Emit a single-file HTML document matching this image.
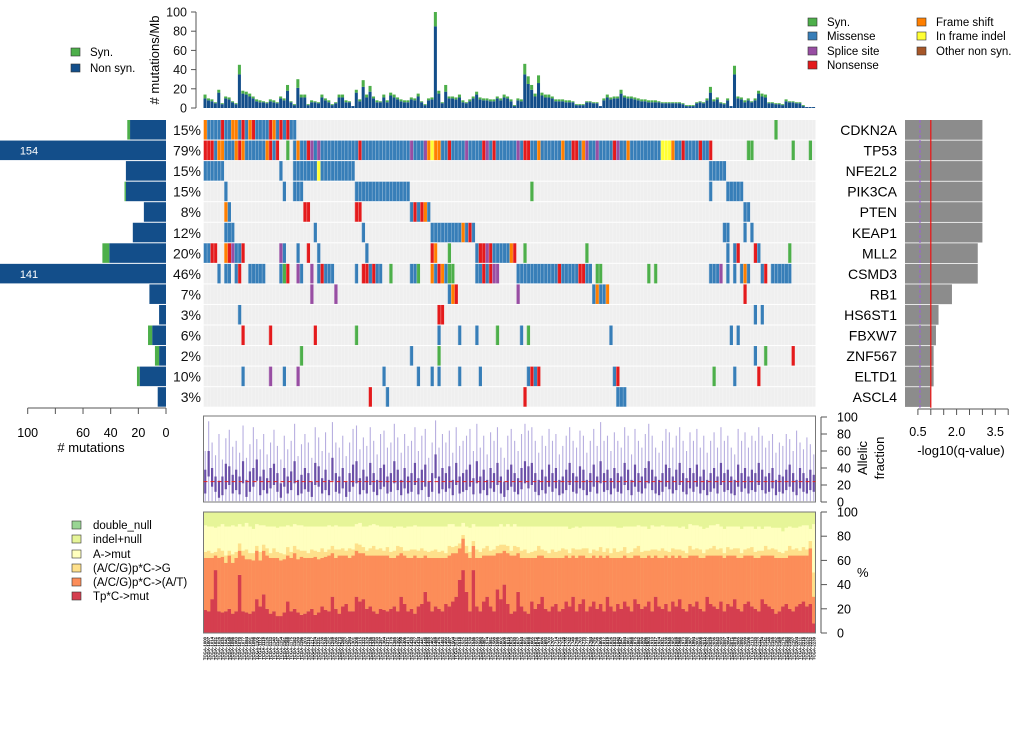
<!DOCTYPE html>
<html><head><meta charset="utf-8"><title>Mutation landscape</title>
<style>
html,body{margin:0;padding:0;background:#fff;}
svg{display:block;font-family:"Liberation Sans",Arial,sans-serif;}
</style></head>
<body>
<svg id="chart" xmlns="http://www.w3.org/2000/svg" width="1020" height="744" viewBox="0 0 1020 744">
<g id="top-legend-left">
  <rect x="71" y="48" width="9" height="8" fill="#4daf4a" stroke="#333" stroke-width="0.6"/>
  <text x="90" y="56" font-size="11.5">Syn.</text>
  <rect x="71" y="64" width="9" height="8" fill="#134e8a" stroke="#333" stroke-width="0.6"/>
  <text x="90" y="72" font-size="11.5">Non syn.</text>
</g>
<g id="top-legend-right">
  <rect x="808" y="18" width="9" height="8" fill="#4daf4a" stroke="#333" stroke-width="0.6"/>
  <text x="827" y="26" font-size="11.5">Syn.</text>
  <rect x="808" y="32" width="9" height="8" fill="#377eb8" stroke="#333" stroke-width="0.6"/>
  <text x="827" y="40" font-size="11.5">Missense</text>
  <rect x="808" y="47" width="9" height="8" fill="#984ea3" stroke="#333" stroke-width="0.6"/>
  <text x="827" y="55" font-size="11.5">Splice site</text>
  <rect x="808" y="61" width="9" height="8" fill="#e41a1c" stroke="#333" stroke-width="0.6"/>
  <text x="827" y="69" font-size="11.5">Nonsense</text>
  <rect x="917" y="18" width="9" height="8" fill="#ff7f00" stroke="#333" stroke-width="0.6"/>
  <text x="936" y="26" font-size="11.5">Frame shift</text>
  <rect x="917" y="32" width="9" height="8" fill="#ffff33" stroke="#333" stroke-width="0.6"/>
  <text x="936" y="40" font-size="11.5">In frame indel</text>
  <rect x="917" y="47" width="9" height="8" fill="#a65628" stroke="#333" stroke-width="0.6"/>
  <text x="936" y="55" font-size="11.5">Other non syn.</text>
</g>
<g id="bottom-legend">
  <rect x="72" y="521" width="9" height="8" fill="#99d594" stroke="#333" stroke-width="0.6"/>
  <text x="93" y="529" font-size="11.5">double_null</text>
  <rect x="72" y="535" width="9" height="8" fill="#e6f598" stroke="#333" stroke-width="0.6"/>
  <text x="93" y="543" font-size="11.5">indel+null</text>
  <rect x="72" y="550" width="9" height="8" fill="#ffffbf" stroke="#333" stroke-width="0.6"/>
  <text x="93" y="558" font-size="11.5">A-&gt;mut</text>
  <rect x="72" y="564" width="9" height="8" fill="#fee08b" stroke="#333" stroke-width="0.6"/>
  <text x="93" y="572" font-size="11.5">(A/C/G)p*C-&gt;G</text>
  <rect x="72" y="578" width="9" height="8" fill="#fc8d59" stroke="#333" stroke-width="0.6"/>
  <text x="93" y="586" font-size="11.5">(A/C/G)p*C-&gt;(A/T)</text>
  <rect x="72" y="592" width="9" height="8" fill="#d53e4f" stroke="#333" stroke-width="0.6"/>
  <text x="93" y="600" font-size="11.5">Tp*C-&gt;mut</text>
</g>
<g id="marks"></g>
</svg>
<script>
// ---------- data ----------
const genes = ["CDKN2A","TP53","NFE2L2","PIK3CA","PTEN","KEAP1","MLL2","CSMD3","RB1","HS6ST1","FBXW7","ZNF567","ELTD1","ASCL4"];
const pctLabels = ["15%","79%","15%","15%","8%","12%","20%","46%","7%","3%","6%","2%","10%","3%"];
const geneNonsyn = [26,154,29,29,16,24,41,141,12,5,10,5,19,6];
const geneSyn = [2,0,0,1,0,0,5,0,0,0,3,3,2,0];
const qScore = [3.0,3.0,3.0,3.0,3.0,3.0,2.82,2.82,1.82,1.3,1.2,1.11,1.11,1.0];
const leftTicks = [100,80,60,40,20,0];
const leftTickLabels = ["100","","60","40","20","0"];
const qTicks = [0.5,1.0,1.5,2.0,2.5,3.0,3.5,4.0];
const qTickLabels = ["0.5","","","2.0","","","3.5",""];
const pctTicks = [0,20,40,60,80,100];

const burdenTotal = [
 14,10,9,6,19,5,12,11,7,5,
 45,18,17,15,12,9,8,7,6,9,
 8,6,12,10,24,7,4,30,14,14,
 4,8,7,6,14,10,8,4,6,14,
 14,8,7,2,19,9,29,14,23,12,
 8,7,14,8,16,14,11,9,8,8,
 11,10,15,7,4,10,11,100,18,6,
 24,12,12,11,14,8,6,9,12,17,
 11,10,10,9,9,12,10,14,12,9,
 3,10,9,46,33,24,15,34,16,14,
 14,12,9,9,9,8,8,7,4,4,
 4,7,7,6,6,2,10,14,11,12,
 12,19,13,12,12,11,10,9,9,8,
 8,8,7,6,6,6,6,6,6,5,
 3,3,3,6,7,6,10,22,9,11,
 6,5,10,2,44,12,11,8,10,7,
 10,18,15,14,6,6,5,5,4,9,
 7,7,6,6,3,1,1,1];
const burdenSyn = [
 4,2,2,1,3,1,2,2,1,1,
 10,3,3,3,2,2,2,1,1,2,
 2,1,2,2,6,1,1,9,3,3,
 1,2,1,1,3,2,2,1,1,3,
 3,2,1,0,3,2,7,3,6,2,
 2,1,3,2,3,3,2,2,2,2,
 2,2,3,1,1,2,2,15,3,1,
 7,2,2,2,3,2,1,2,2,3,
 2,2,2,2,2,2,2,3,2,2,
 1,2,2,11,8,5,3,8,3,3,
 3,2,2,2,2,2,2,1,1,1,
 1,1,1,1,1,0,2,3,2,2,
 2,4,2,2,2,2,2,2,2,2,
 2,2,1,1,1,1,1,1,1,1,
 1,1,1,1,1,1,2,6,2,2,
 1,1,2,0,9,2,2,2,2,1,
 2,3,3,3,1,1,1,1,1,2,
 1,1,1,1,1,0,0,0];

const afQ1 = [
 10,30,18,12,5,8,15,20,10,14, 9,22,6,12,18,25,8,14,10,16, 20,12,5,18,10,14,22,8,10,15, 12,6,20,18,10,14,8,25,12,10,
 16,6,12,18,22,9,14,10,20,12, 8,15,18,10,12,22,14,8,16,10, 12,20,9,14,18,6,12,28,10,15, 12,16,8,20,10,12,14,18,9,22,
 10,14,8,16,12,20,10,6,14,18, 12,9,15,22,16,20,12,8,14,10, 18,12,16,8,10,14,20,12,10,16, 14,8,12,18,10,22,12,14,9,16,
 12,10,20,14,8,18,12,10,16,22, 14,10,8,12,18,15,10,14,20,12, 9,16,12,18,10,14,8,12,16,10, 20,12,14,10,8,18,12,16,10,14,
 12,20,14,10,12,16,8,12, 10,14,18,12,8,16,12,10,14,12];
const afQ3 = [
 38,60,40,30,25,30,45,42,32,38, 30,48,26,36,40,50,30,38,28,40, 45,34,22,40,30,36,48,26,32,40, 34,24,46,42,28,38,26,52,34,30,
 40,24,34,44,48,28,38,30,46,34, 26,40,44,30,34,48,38,26,40,30, 34,46,28,38,44,24,34,56,30,40, 34,42,26,46,30,34,38,44,28,48,
 30,38,26,40,34,46,30,24,38,44, 34,28,40,48,42,46,34,26,38,30, 44,34,40,26,30,38,46,34,30,42, 38,26,34,44,30,48,34,38,28,40,
 34,30,46,38,26,44,34,30,40,48, 38,30,26,34,44,40,30,38,46,34, 28,40,34,44,30,38,26,34,40,30, 46,34,38,30,26,44,34,40,30,38,
 34,46,38,30,34,40,26,32, 30,38,44,34,26,40,34,28,38,32];
const afHi = [
 60,95,70,55,80,50,75,85,65,72, 58,90,52,68,88,74,62,80,56,70, 85,66,50,78,62,72,92,54,68,80, 70,52,88,76,60,82,58,94,70,64,
 78,54,70,86,90,62,76,66,88,72, 56,80,84,64,70,92,76,58,80,66, 72,88,60,78,86,52,70,96,64,80, 70,84,58,88,66,72,78,86,60,92,
 64,78,56,82,72,88,64,52,78,86, 72,60,80,92,84,88,72,58,78,66, 86,72,80,56,66,78,88,72,64,84, 78,58,72,86,66,94,72,78,60,82,
 72,64,88,78,56,86,72,64,80,92, 78,64,58,72,86,82,64,78,88,72, 60,82,72,86,64,78,58,72,82,64, 88,72,78,64,56,86,72,82,64,78,
 72,88,78,64,72,80,58,70, 66,80,74,60,84,70,62,76,68,56];
const afTicks = [0,20,40,60,80,100];
const afCutoff = 24;

const sigTpC = [19,18,28,52,18,17,18,20,16,18, 48,18,17,16,18,28,22,32,20,16, 18,14,14,17,26,18,20,17,15,16, 18,20,15,17,22,19,18,30,20,16,
 22,24,18,18,30,26,28,20,22,18, 16,20,19,18,20,22,18,30,24,18, 20,16,22,24,34,26,18,22,20,18, 24,22,26,30,44,52,34,18,52,22,
 18,26,30,22,18,36,28,40,24,16, 18,34,22,18,16,26,20,24,30,20, 18,22,24,18,20,26,22,30,18,24, 28,18,22,26,20,24,18,30,22,18,
 24,20,26,22,18,28,24,20,22,26, 18,30,22,20,24,18,26,22,28,20, 18,24,22,26,20,18,30,24,22,20, 26,18,24,22,28,20,18,24,26,22,
 20,18,28,24,22,20,16,18,22,24, 20,18,22,24,26,22,24,8];
const sigCtoAT = [43,44,34,12,44,46,40,44,42,44, 20,46,44,45,42,40,38,36,44,46, 44,48,46,44,38,44,46,44,48,46, 44,42,48,44,40,44,46,36,42,48,
 42,40,44,46,38,40,38,44,42,46, 48,44,45,46,42,40,46,36,40,44, 42,48,40,38,30,36,44,40,42,44, 38,42,40,36,26,26,32,44,20,40,
 44,38,34,42,46,30,38,28,42,48, 46,32,40,44,46,36,42,40,34,42, 44,40,38,44,42,38,40,34,44,40, 36,44,40,38,42,40,44,34,40,44,
 38,42,38,40,44,36,40,42,40,38, 44,34,40,42,40,44,38,40,36,42, 44,40,42,38,42,44,34,40,42,44, 38,44,40,42,36,42,44,40,38,42,
 42,44,36,40,42,44,46,44,40,38, 44,46,42,40,38,42,46,22];
const sigCtoG = [5,6,4,3,8,5,6,4,7,5, 6,4,8,5,6,4,7,5,6,4, 8,5,6,4,7,5,6,8,5,6, 4,7,5,6,8,4,5,6,7,5,
 6,4,8,5,6,7,5,4,6,8, 5,6,4,7,5,6,8,5,4,6, 7,5,6,8,4,5,6,7,5,6, 4,8,5,6,4,3,6,5,4,7,
 5,6,8,4,5,6,7,5,6,4, 8,5,6,7,4,5,6,8,5,6, 4,7,5,6,8,5,4,6,7,5, 6,8,4,5,6,7,5,6,4,8,
 5,6,7,4,5,6,8,5,6,4, 7,5,6,8,4,5,6,7,5,6, 4,8,5,6,7,4,5,6,8,5, 6,4,7,5,6,8,4,5,6,7,
 5,6,4,8,5,6,7,5,4,6, 8,5,6,4,7,5,6,20];
const sigAmut = [22,20,22,20,18,22,24,20,24,21, 16,20,22,22,20,18,22,16,18,22, 18,20,22,23,18,21,18,20,21,20, 22,19,20,21,18,21,20,16,20,19,
 18,20,18,19,16,18,17,20,19,18, 20,18,20,17,21,19,16,17,19,20, 19,20,20,18,20,21,20,19,21,20, 22,18,19,16,14,10,16,20,14,19,
 21,18,16,20,19,16,17,15,18,20, 18,17,20,19,22,21,20,16,19,20, 22,19,21,20,18,19,20,17,19,18, 18,18,22,19,20,17,21,18,22,18,
 20,19,17,22,21,18,17,21,20,18, 20,19,20,19,20,21,18,19,18,20, 20,18,20,19,19,20,18,19,17,21, 18,20,17,19,18,18,20,19,18,17,
 19,20,18,16,19,17,18,20,18,19, 16,18,17,20,18,20,10,40];

// mutation segments per gene: [firstSample, lastSample, type]
const segCDKN2A = [[0,0,"f"],[1,4,"m"],[5,5,"n"],[6,7,"m"],[8,9,"f"],[10,10,"m"],[11,11,"n"],[12,12,"m"],[13,13,"f"],[14,14,"n"],[15,18,"m"],[19,19,"n"],[20,20,"f"],[21,21,"m"],[22,22,"n"],[23,23,"m"],[24,24,"n"],[25,26,"m"],[166,166,"y"]];
const segTP53 = [[0,2,"n"],[3,3,"m"],[4,5,"f"],[6,8,"m"],[9,9,"f"],[10,10,"n"],[11,11,"f"],[12,17,"m"],[18,18,"f"],[19,19,"n"],[20,20,"m"],[21,21,"n"],[24,24,"y"],[26,147,"m"],
 [27,27,"f"],[30,30,"n"],[31,31,"s"],[33,33,"s"],[45,45,"n"],[60,60,"s"],[64,64,"s"],[65,65,"f"],[66,66,"i"],[67,68,"f"],[71,71,"n"],[76,76,"s"],[81,81,"n"],[82,82,"s"],[84,84,"n"],
 [91,91,"s"],[93,94,"n"],[97,97,"f"],[104,104,"f"],[107,108,"n"],[110,110,"f"],[111,111,"s"],[114,114,"s"],[119,119,"n"],[120,120,"s"],[123,123,"f"],[133,135,"i"],[136,136,"f"],[139,139,"n"],[144,144,"n"],[147,147,"n"],
 [158,159,"y"],[171,171,"y"],[176,176,"y"]];
const segNFE2L2 = [[0,5,"m"],[22,22,"m"],[26,32,"m"],[33,33,"i"],[34,43,"m"],[147,151,"m"]];
const segPIK3CA = [[6,6,"m"],[23,23,"m"],[26,28,"m"],[44,59,"m"],[95,95,"y"],[147,147,"m"],[152,156,"m"]];
const segPTEN = [[6,6,"f"],[7,7,"m"],[29,30,"n"],[44,45,"n"],[60,60,"m"],[61,61,"n"],[62,62,"m"],[63,63,"n"],[64,64,"f"],[65,65,"m"],[157,158,"m"]];
const segKEAP1 = [[6,7,"m"],[8,8,"m"],[32,32,"m"],[46,46,"m"],[66,74,"m"],[75,75,"f"],[76,76,"m"],[77,77,"n"],[78,78,"m"],[151,152,"m"],[157,157,"m"],[159,159,"m"]];
const segMLL2 = [[0,1,"m"],[2,3,"n"],[6,6,"f"],[7,7,"n"],[8,8,"s"],[9,10,"m"],[11,11,"n"],[22,22,"s"],[23,23,"m"],[27,27,"m"],[30,30,"n"],[33,33,"m"],[47,47,"m"],[66,66,"n"],[67,67,"f"],[71,71,"y"],
 [79,79,"m"],[80,81,"n"],[82,82,"s"],[83,83,"n"],[84,88,"m"],[89,89,"f"],[90,90,"n"],[93,93,"y"],[111,111,"y"],[152,152,"m"],[154,154,"m"],[155,155,"n"],[160,160,"n"],[161,161,"m"],[170,170,"y"]];
const segCSMD3 = [[4,4,"m"],[6,7,"m"],[9,9,"m"],[10,10,"n"],[13,17,"m"],[22,22,"m"],[23,23,"y"],[24,24,"n"],[27,27,"s"],[28,28,"m"],[31,31,"s"],[33,33,"m"],[34,34,"n"],[35,37,"m"],[44,44,"m"],[46,47,"n"],
 [48,48,"m"],[49,49,"n"],[50,51,"m"],[54,54,"y"],[60,61,"m"],[62,62,"y"],[66,66,"f"],[67,67,"m"],[68,68,"n"],[69,69,"f"],[70,70,"m"],[71,72,"y"],[79,80,"m"],[81,81,"n"],[82,82,"m"],[83,83,"n"],[84,84,"s"],[85,85,"s"],
 [91,112,"m"],[103,103,"n"],[109,110,"n"],[114,115,"y"],[129,129,"y"],[131,131,"y"],[147,149,"m"],[150,150,"s"],[152,152,"m"],[154,154,"m"],[156,156,"m"],[157,157,"f"],[158,158,"m"],[162,162,"m"],[163,163,"n"],[165,170,"m"]];
const segRB1 = [[31,31,"s"],[38,38,"s"],[71,71,"m"],[72,72,"f"],[73,73,"n"],[91,91,"s"],[113,113,"m"],[114,114,"f"],[115,116,"m"],[117,117,"f"],[157,157,"n"]];
const segHS6ST1 = [[10,10,"m"],[68,69,"n"],[160,160,"m"],[162,162,"m"]];
const segFBXW7 = [[11,11,"n"],[19,19,"n"],[32,32,"n"],[44,44,"y"],[68,68,"m"],[74,74,"m"],[79,79,"m"],[85,85,"y"],[92,92,"m"],[94,94,"y"],[118,118,"m"],[153,153,"m"],[155,155,"m"]];
const segZNF567 = [[28,28,"y"],[60,60,"m"],[68,68,"y"],[160,160,"m"],[163,163,"y"],[171,171,"n"]];
const segELTD1 = [[11,11,"m"],[19,19,"s"],[23,23,"m"],[27,27,"s"],[52,52,"m"],[62,62,"m"],[66,66,"m"],[68,68,"m"],[74,74,"m"],[80,80,"m"],[94,94,"m"],[95,95,"n"],[96,96,"m"],[97,97,"n"],[119,119,"m"],[120,120,"n"],[148,148,"y"],[154,154,"m"],[161,161,"n"]];
const segASCL4 = [[48,48,"n"],[53,53,"m"],[93,93,"n"],[120,122,"m"]];
const geneSegments = [segCDKN2A,segTP53,segNFE2L2,segPIK3CA,segPTEN,segKEAP1,segMLL2,segCSMD3,segRB1,segHS6ST1,segFBXW7,segZNF567,segELTD1,segASCL4];

// ---------- layout / scales ----------
const NS = "http://www.w3.org/2000/svg";
const N = burdenTotal.length;
const X0 = 203.5, X1 = 815.5, CW = (X1 - X0) / N;
const colX = i => X0 + i * CW;
const ROW_TOP = 120, ROW_H = 20.55;
const rowY = g => ROW_TOP + g * ROW_H;
const yBurden = v => 108 - Math.min(v, 100) * 0.96;
const xLeft = v => 166 - v * 1.383;
const xQ = v => 905 + v * 25.8;
const yAF = v => 502 - v * 0.85;
const ySig = v => 633 - v * 1.21;
const typeColor = {m:"#377eb8",n:"#e41a1c",f:"#ff7f00",s:"#984ea3",y:"#4daf4a",i:"#ffff33",o:"#a65628"};
const root = document.getElementById("marks");
function mk(tag, attrs, parent, txt){
  const el = document.createElementNS(NS, tag);
  for (const k in attrs) el.setAttribute(k, attrs[k]);
  if (txt !== undefined) el.textContent = txt;
  (parent || root).appendChild(el);
  return el;
}
function grp(name){
  const g = mk("g", {});
  
  
  return g;
}

// ---------- top burden chart ----------
const gTop = grp("mutation-burden-chart");
mk("line",{x1:196,y1:yBurden(0),x2:196,y2:yBurden(100),stroke:"#555","stroke-width":1},gTop);
[0,20,40,60,80,100].forEach(t=>{
  mk("line",{x1:191,y1:yBurden(t),x2:196,y2:yBurden(t),stroke:"#555"},gTop);
  const tl = mk("text",{x:187,y:yBurden(t)+4.5,"font-size":12.5,"text-anchor":"end",fill:"#111"},gTop,String(t));
  
  
});
const bt = mk("text",{x:0,y:0,"font-size":13,"text-anchor":"middle",transform:"translate(159,60) rotate(-90)"},gTop,"# mutations/Mb");


for (let i=0;i<N;i++){
  const tot = burdenTotal[i], syn = burdenSyn[i], ns = tot - syn;
  const r1 = mk("rect",{x:colX(i),y:yBurden(ns),width:CW-0.4,height:yBurden(0)-yBurden(ns),fill:"#134e8a"},gTop);
  
  
  if (syn>0){
    const r2 = mk("rect",{x:colX(i),y:yBurden(tot),width:CW-0.4,height:yBurden(ns)-yBurden(tot),fill:"#4daf4a"},gTop);
    
    
  }
}

// ---------- oncoprint grid ----------
const gGrid = grp("oncoprint-grid");
for (let g=0; g<genes.length; g++){
  const y = rowY(g);
  mk("rect",{x:X0,y:y,width:X1-X0,height:ROW_H-1,fill:"#efefef"},gGrid);
  const typ = new Array(N).fill(null);
  geneSegments[g].forEach(s=>{ for(let k=s[0];k<=s[1]&&k<N;k++) typ[k]=s[2]; });
  for (let i=0;i<N;i++){
    if (typ[i]){
      const c = mk("rect",{x:colX(i),y:y,width:CW,height:ROW_H-1,fill:typeColor[typ[i]]},gGrid);
      
      
    }
    mk("line",{x1:colX(i)+0.2,y1:y,x2:colX(i)+0.2,y2:y+ROW_H-1,stroke:"#ffffff","stroke-width":0.5,"stroke-opacity":0.45},gGrid);
  }
}

// ---------- left mutation count bars ----------
const gLeft = grp("gene-mutation-count-chart");
for (let g=0; g<genes.length; g++){
  const y = rowY(g);
  const ns = geneNonsyn[g], sy = geneSyn[g];
  const xs = Math.max(0, xLeft(ns));
  const b = mk("rect",{x:xs,y:y,width:166-xs,height:ROW_H-1,fill:"#134e8a"},gLeft);
  
  
  if (sy>0){
    const s = mk("rect",{x:xLeft(ns+sy),y:y,width:xLeft(ns)-xLeft(ns+sy),height:ROW_H-1,fill:"#4daf4a"},gLeft);
    
    
  }
  if (xLeft(ns) < 0){
    const lb = mk("text",{x:29,y:y+14,"font-size":11,"text-anchor":"middle",fill:"#fff"},gLeft,String(ns));
    
    
  }
  const pl = mk("text",{x:201,y:y+15,"font-size":14,"text-anchor":"end",fill:"#111"},gLeft,pctLabels[g]);
  
  
}
mk("line",{x1:xLeft(100),y1:408,x2:xLeft(0),y2:408,stroke:"#555"},gLeft);
leftTicks.forEach((t,k)=>{
  mk("line",{x1:xLeft(t),y1:408,x2:xLeft(t),y2:414,stroke:"#555"},gLeft);
  if (leftTickLabels[k]){
    const tl = mk("text",{x:xLeft(t),y:437,"font-size":12.5,"text-anchor":"middle"},gLeft,leftTickLabels[k]);
    
    
  }
});
const lt = mk("text",{x:91,y:452,"font-size":13,"text-anchor":"middle"},gLeft,"# mutations");



// ---------- right q-value panel ----------
const gQ = grp("qvalue-chart");
for (let g=0; g<genes.length; g++){
  const y = rowY(g);
  const gl = mk("text",{x:897,y:y+15,"font-size":14,"text-anchor":"end"},gQ,genes[g]);
  
  
  const b = mk("rect",{x:xQ(0),y:y,width:xQ(qScore[g])-xQ(0),height:ROW_H-0.8,fill:"#8c8c8c"},gQ);
  
  
}
const pLine = mk("line",{x1:xQ(0.58),y1:ROW_TOP,x2:xQ(0.58),y2:rowY(14),stroke:"#9966cc","stroke-width":1.2,"stroke-dasharray":"3,2"},gQ);


const rLine = mk("line",{x1:xQ(1),y1:ROW_TOP,x2:xQ(1),y2:rowY(14),stroke:"#ee1111","stroke-width":1.2},gQ);


mk("line",{x1:xQ(0.5),y1:409,x2:xQ(4),y2:409,stroke:"#555"},gQ);
qTicks.forEach((t,k)=>{
  mk("line",{x1:xQ(t),y1:409,x2:xQ(t),y2:415,stroke:"#555"},gQ);
  if (qTickLabels[k]){
    const tl = mk("text",{x:xQ(t),y:436,"font-size":12.5,"text-anchor":"middle"},gQ,qTickLabels[k]);
    
    
  }
});
const qt = mk("text",{x:961,y:455,"font-size":13,"text-anchor":"middle"},gQ,"-log10(q-value)");



// ---------- allelic fraction panel ----------
const gAF = grp("allelic-fraction-chart");
mk("rect",{x:X0,y:416,width:X1-X0,height:86,fill:"#fff",stroke:"#777","stroke-width":1},gAF);
for (let i=0;i<N;i++){
  if (afHi[i] === undefined) continue;
  const cx = colX(i)+CW/2;
  const w = mk("line",{x1:cx,y1:yAF(1),x2:cx,y2:yAF(afHi[i]),stroke:"#b7aee0","stroke-width":1.1},gAF);
  
  
  const bx = mk("rect",{x:cx-1.1,y:yAF(afQ3[i]),width:2.2,height:yAF(afQ1[i])-yAF(afQ3[i]),fill:"#6a4fa8"},gAF);
  
  
}
const cut = mk("line",{x1:X0,y1:yAF(afCutoff),x2:X1,y2:yAF(afCutoff),stroke:"#e32222","stroke-width":1,"stroke-dasharray":"4,3"},gAF);


mk("line",{x1:821,y1:yAF(0),x2:821,y2:yAF(100),stroke:"#555"},gAF);
afTicks.forEach(t=>{
  mk("line",{x1:821,y1:yAF(t),x2:827,y2:yAF(t),stroke:"#555"},gAF);
  const tl = mk("text",{x:837,y:yAF(t)+4.5,"font-size":12.5},gAF,String(t));
  
  
});
const at1 = mk("text",{x:0,y:0,"font-size":13,"text-anchor":"middle",transform:"translate(867,458) rotate(-90)"},gAF,"Allelic");


const at2 = mk("text",{x:0,y:0,"font-size":13,"text-anchor":"middle",transform:"translate(884,458) rotate(-90)"},gAF,"fraction");



// ---------- signature stacked bars ----------
const gSig = grp("mutation-signature-chart");
mk("rect",{x:X0,y:ySig(100),width:X1-X0,height:ySig(0)-ySig(100),fill:"#e6f598"},gSig);
for (let i=0;i<N;i++){
  const parts = [[sigTpC[i],"#d53e4f"],[sigCtoAT[i],"#fc8d59"],[sigCtoG[i],"#fee08b"],[sigAmut[i],"#ffffbf"]];
  let acc = 0;
  parts.forEach(p=>{
    const r = mk("rect",{x:colX(i),y:ySig(acc+p[0]),width:CW+0.2,height:ySig(acc)-ySig(acc+p[0]),fill:p[1]},gSig);
    
    
    acc += p[0];
  });
}
mk("rect",{x:X0,y:ySig(100),width:X1-X0,height:ySig(0)-ySig(100),fill:"none",stroke:"#777"},gSig);
mk("line",{x1:821,y1:ySig(0),x2:821,y2:ySig(100),stroke:"#555"},gSig);
pctTicks.forEach(t=>{
  mk("line",{x1:821,y1:ySig(t),x2:827,y2:ySig(t),stroke:"#555"},gSig);
  const tl = mk("text",{x:837,y:ySig(t)+4.5,"font-size":12.5},gSig,String(t));
  
  
});
const pt = mk("text",{x:857,y:577,"font-size":13},gSig,"%");



// ---------- sample labels ----------
const gLab = grp("sample-labels");
for (let i=0;i<N;i++){
  const cx = colX(i)+CW/2+1.5;
  const t = mk("text",{x:0,y:0,"font-size":4.3,"font-weight":"bold","text-anchor":"end",fill:"#000",transform:`translate(${cx},637) rotate(-90)`},gLab,"TCGA-"+(1000+i*7));
  
  
}
</script>
</body></html>
